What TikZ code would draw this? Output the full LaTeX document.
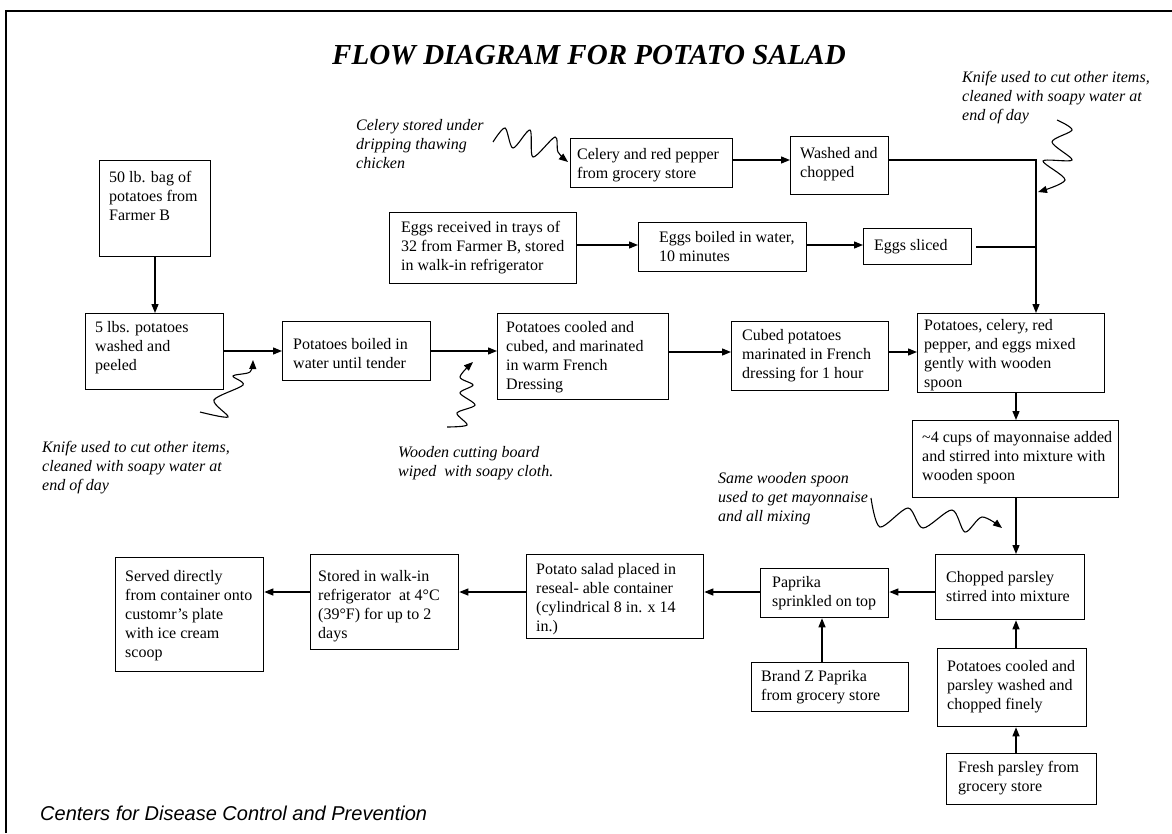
\documentclass[tikz,border=0pt]{standalone}
\usepackage{fontspec}
\setmainfont{Liberation Serif}
\newfontfamily\footfont{Liberation Sans}
\usetikzlibrary{arrows.meta}
\tikzset{
 boxst/.style={draw, line width=1.3pt, inner sep=0pt},
 txtst/.style={inner sep=0pt, align=left, font=\fontsize{16}{19}\selectfont},
 notest/.style={inner sep=0pt, align=left, anchor=north west, font=\fontsize{16}{19}\selectfont\itshape},
 arr/.style={line width=1.3pt, -{Triangle[length=9pt,width=7pt]}},
 plainline/.style={line width=1.3pt},
 squig/.style={line width=1.1pt, -{Triangle[length=9pt,width=7pt]}},
}
\newcommand\PBox[8]{%
 \node[boxst, minimum width=#4pt-#2pt, minimum height=#5pt-#3pt, anchor=north west] (#1) at (#2,#3) {};%
 \node[txtst, anchor=north west] (#1-t) at (#2+#6,#3+#7-7) {\rule{0pt}{12pt}#8};%
}
\begin{document}
\begin{tikzpicture}[x=1pt,y=-1pt]
\useasboundingbox (0,0) rectangle (1172,833);
\fill[white] (0,0) rectangle (1172,833);
% frame
\draw[line width=2.5pt] (6,833) -- (6,11) -- (1172,11);
% title
\node[font=\fontsize{29}{32}\selectfont\bfseries\itshape, inner sep=0pt] (title) at (589,55) {FLOW DIAGRAM FOR POTATO SALAD};
% boxes
\PBox{lb50}{99}{160}{210}{256}{10}{17}{50 lb. bag of\\potatoes from\\Farmer B}
\PBox{lb5}{85}{313}{223}{389}{10}{14}{5 lbs. potatoes\\washed and\\peeled}
\PBox{boiled}{282}{321}{430}{380}{11}{23}{Potatoes boiled in\\water until tender}
\PBox{cooled}{497}{313}{668}{399}{9}{14}{Potatoes cooled and\\cubed, and marinated\\in warm French\\Dressing}
\PBox{cubed}{731}{321}{888}{390}{11}{14}{Cubed potatoes\\marinated in French\\dressing for 1 hour}
\PBox{mixed}{917}{313}{1104}{392}{7}{12}{Potatoes, celery, red\\pepper, and eggs mixed\\gently with wooden\\spoon}
\PBox{mayo}{912}{420}{1118}{497}{10}{17}{\textasciitilde4 cups of mayonnaise added\\and stirred into mixture with\\wooden spoon}
\PBox{chopped}{935}{554}{1084}{619}{11}{23}{Chopped parsley\\stirred into mixture}
\PBox{paprika}{760}{568}{888}{617}{12}{14}{Paprika\\sprinkled on top}
\PBox{placed}{526}{554}{703}{638}{10}{15}{Potato salad placed in\\reseal- able container\\(cylindrical 8 in. x 14\\in.)}
\PBox{brandz}{751}{662}{908}{711}{10}{14}{Brand Z Paprika\\from grocery store}
\PBox{cparsley}{937}{648}{1086}{726}{10}{18}{Potatoes cooled and\\parsley washed and\\chopped finely}
\PBox{fresh}{946}{753}{1096}{804}{12}{14}{Fresh parsley from\\grocery store}
\PBox{stored}{310}{554}{458}{649}{8}{22}{Stored in walk-in\\refrigerator\ \ at 4°C\\(39°F) for up to 2\\days}
\PBox{served}{115}{557}{263}{671}{10}{19}{Served directly\\from container onto\\customr’s plate\\with ice cream\\scoop}
\PBox{celery}{570}{138}{732}{187}{7}{16}{Celery and red pepper\\from grocery store}
\PBox{washed}{790}{136}{888}{194}{10}{17}{Washed and\\chopped}
\PBox{eggsrec}{389}{212}{576}{283}{12}{15}{Eggs received in trays of\\32 from Farmer B, stored\\in walk-in refrigerator}
\PBox{eggsboil}{638}{222}{806}{271}{21}{15}{Eggs boiled in water,\\10 minutes}
\PBox{eggsslice}{863}{228}{971}{264}{11}{17}{Eggs sliced}
% annotations
\node[notest] (celnote) at (356,118) {\rule{0pt}{12pt}Celery stored under\\dripping thawing\\chicken};
\node[notest] (knife1) at (962,70) {\rule{0pt}{12pt}Knife used to cut other items,\\cleaned with soapy water at\\end of day};
\node[notest] (knife2) at (42,440) {\rule{0pt}{12pt}Knife used to cut other items,\\cleaned with soapy water at\\end of day};
\node[notest] (board) at (398,445) {\rule{0pt}{12pt}Wooden cutting board\\wiped\ \ with soapy cloth.};
\node[notest] (spoon) at (718,471) {\rule{0pt}{12pt}Same wooden spoon\\used to get mayonnaise\\and all mixing};
% footer
\node[font=\footfont\itshape\fontsize{20}{24}\selectfont, anchor=west, inner sep=0pt] (footer) at (40,813) {Centers for Disease Control and Prevention};
% helper coordinates
\coordinate (rowA) at (0,351);
\coordinate (rowB) at (0,352);
\coordinate (rowC) at (0,592);
\coordinate (rowE) at (0,245);
\coordinate (rowF) at (0,247);
\coordinate (rowCel) at (0,160);
\coordinate (joinx) at (1036,0);
\coordinate (colx) at (1016,0);
\coordinate (papx) at (822,0);
\coordinate (lbx) at (155,0);
% connectors
\draw[arr] (lb50.south -| lbx) -- (lb5.north -| lbx);
\draw[arr] (lb5.east |- rowA) -- (boiled.west |- rowA);
\draw[arr] (boiled.east |- rowA) -- (cooled.west |- rowA);
\draw[arr] (cooled.east |- rowB) -- (cubed.west |- rowB);
\draw[arr] (cubed.east |- rowB) -- (mixed.west |- rowB);
\draw[arr] (celery.east |- rowCel) -- (washed.west |- rowCel);
\draw[arr] (washed.east |- rowCel) -- (joinx |- rowCel) -- (mixed.north -| joinx);
\draw[arr] (eggsrec.east |- rowE) -- (eggsboil.west |- rowE);
\draw[arr] (eggsboil.east |- rowE) -- (eggsslice.west |- rowE);
\draw[plainline] ([xshift=4pt]eggsslice.east |- rowF) -- (joinx |- rowF);
\draw[arr] (mixed.south -| colx) -- (mayo.north -| colx);
\draw[arr] (mayo.south -| colx) -- (chopped.north -| colx);
\draw[arr] (chopped.west |- rowC) -- (paprika.east |- rowC);
\draw[arr] (paprika.west |- rowC) -- (placed.east |- rowC);
\draw[arr] (placed.west |- rowC) -- (stored.east |- rowC);
\draw[arr] (stored.west |- rowC) -- (served.east |- rowC);
\draw[arr] (brandz.north -| papx) -- (paprika.south -| papx);
\draw[arr] (cparsley.north -| colx) -- (chopped.south -| colx);
\draw[arr] (fresh.north -| colx) -- (cparsley.south -| colx);
% squiggly hazard arrows
\draw[squig] plot[smooth, tension=0.5] coordinates {(493,142) (505,128) (513,148) (530,130) (533,157) (555,137) (558,152) (568,162)};
\draw[squig] plot[smooth, tension=0.5] coordinates {(1057,120) (1072,130) (1052,142) (1072,160) (1043,161) (1065,180) (1038,192)};
\draw[squig] plot[smooth, tension=0.5] coordinates {(200,412) (228,417) (214,400) (243,385) (233,376) (250,372) (253,360)};
\draw[squig] plot[smooth, tension=0.5] coordinates {(447,427) (467,425) (457,413) (475,405) (460,393) (473,385) (460,377) (473,362)};
\draw[squig] plot[smooth, tension=0.5] coordinates {(871,498) (880,527) (908,508) (923,528) (952,510) (965,532) (982,517) (1002,528)};
\end{tikzpicture}
\end{document}
